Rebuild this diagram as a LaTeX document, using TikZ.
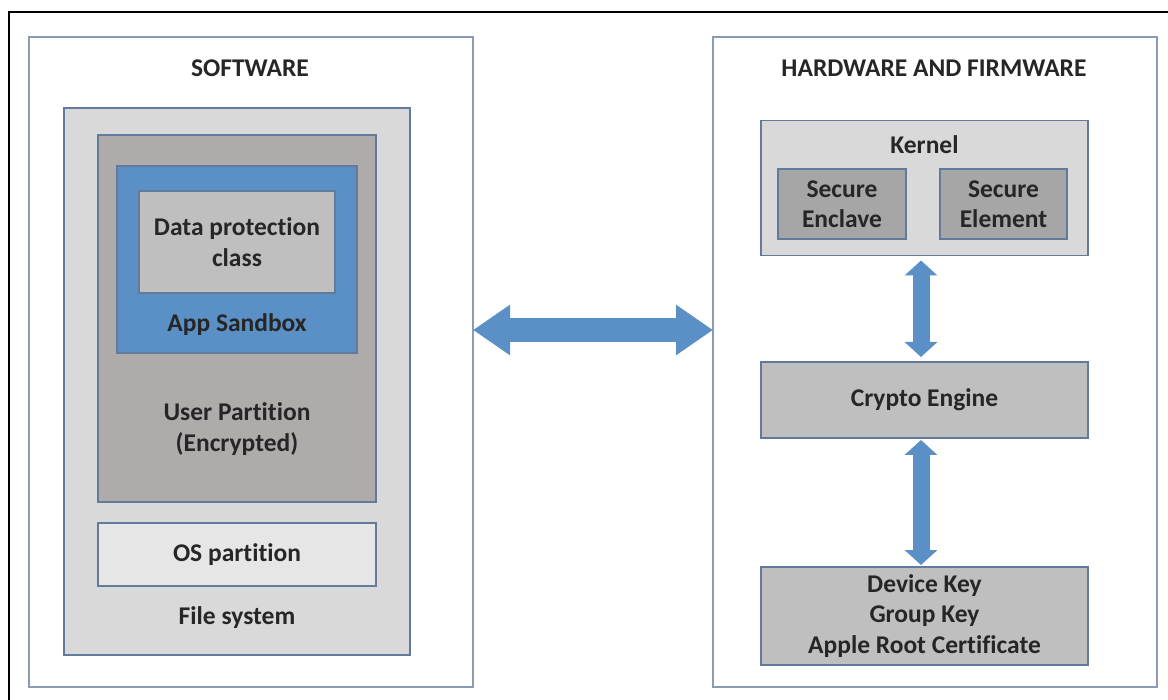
\documentclass[tikz,border=0pt]{standalone}
\usepackage{fontspec}
\setmainfont[Ligatures={NoCommon}]{Carlito}
\usetikzlibrary{arrows.meta}

\definecolor{boxline}{RGB}{98,122,156}
\definecolor{outline}{RGB}{140,155,180}
\definecolor{arrowblue}{RGB}{91,144,199}
\definecolor{fsgrey}{RGB}{217,217,217}
\definecolor{upgrey}{RGB}{175,171,171}
\definecolor{dpgrey}{RGB}{191,191,191}
\definecolor{osgrey}{RGB}{231,230,230}
\definecolor{segrey}{RGB}{166,166,166}
\definecolor{inkgrey}{RGB}{38,38,38}

\begin{document}
\begin{tikzpicture}
  [x=1pt,y=-1pt,every node/.style={inner sep=0pt,outer sep=0pt,text=inkgrey,
   font=\fontsize{25.5}{30.5}\selectfont\bfseries,align=center}]
  \tikzstyle{box} = [draw=boxline,line width=1.2pt,rectangle]
  \tikzstyle{panel} = [draw=outline,line width=1.2pt,rectangle,fill=white]
  \tikzstyle{link} = [draw=arrowblue]
  \useasboundingbox (0,0) rectangle (1168,700);
  \draw[line width=2pt] (9,700) -- (9,12) -- (1168,12);

  % software side
  \node[panel,minimum width=444pt,minimum height=650pt] (sw) at (251,362) {};
  \node (swtitle) at (250,68) {SOFTWARE};
  \node[box,fill=fsgrey,minimum width=346pt,minimum height=547pt] (fs) at (237,381.5) {};
  \node[box,fill=upgrey,minimum width=278pt,minimum height=367pt] (up) at (237,318.5) {};
  \node[box,fill=arrowblue,minimum width=240pt,minimum height=187pt] (sb) at (237,259.5) {};
  \node[box,fill=dpgrey,minimum width=196pt,minimum height=102pt] (dp) at (237,242) {Data protection\\class};
  \node (sbtext) at (237,325) {App Sandbox};
  \node (uptext) at (237,429) {User Partition\\(Encrypted)};
  \node[box,fill=osgrey,minimum width=278pt,minimum height=63pt] (os) at (237,554.5) {OS partition};
  \node (fstext) at (237,618) {File system};

  % hardware side
  \node[panel,minimum width=444pt,minimum height=650pt] (hw) at (935,362) {};
  \node (hwtitle) at (934,68) {HARDWARE AND FIRMWARE};
  \node[box,fill=fsgrey,minimum width=327pt,minimum height=135pt] (kernel) at (924.5,188) {};
  \node (ktext) at (924.5,145) {Kernel};
  \node[box,fill=segrey,minimum width=128pt,minimum height=70pt] (enclave) at (842,204) {Secure\\Enclave};
  \node[box,fill=segrey,minimum width=127pt,minimum height=70pt] (element) at (1003.5,204) {Secure\\Element};
  \node[box,fill=dpgrey,minimum width=327pt,minimum height=76pt] (crypto) at (924.5,400) {Crypto Engine};
  \node[box,fill=dpgrey,minimum width=327pt,minimum height=98pt] (keys) at (924.5,616) {Device Key\\Group Key\\Apple Root Certificate};

  \draw[link,line width=24pt,{Triangle[width=48pt,length=37pt]}-{Triangle[width=48pt,length=37pt]}]
    (sw.east |- 0,330) -- (hw.west |- 0,330);
\foreach \source /\dest /\gap in {kernel/crypto/5pt,crypto/keys/2pt}
   \draw[link,line width=17pt,{Triangle[width=32pt,length=15pt]}-{Triangle[width=32pt,length=15pt]},
     shorten <=\gap,shorten >=\gap] ([xshift=-3.5pt]\source.south) -- ([xshift=-3.5pt]\dest.north);

  \end{tikzpicture}
\end{document}
